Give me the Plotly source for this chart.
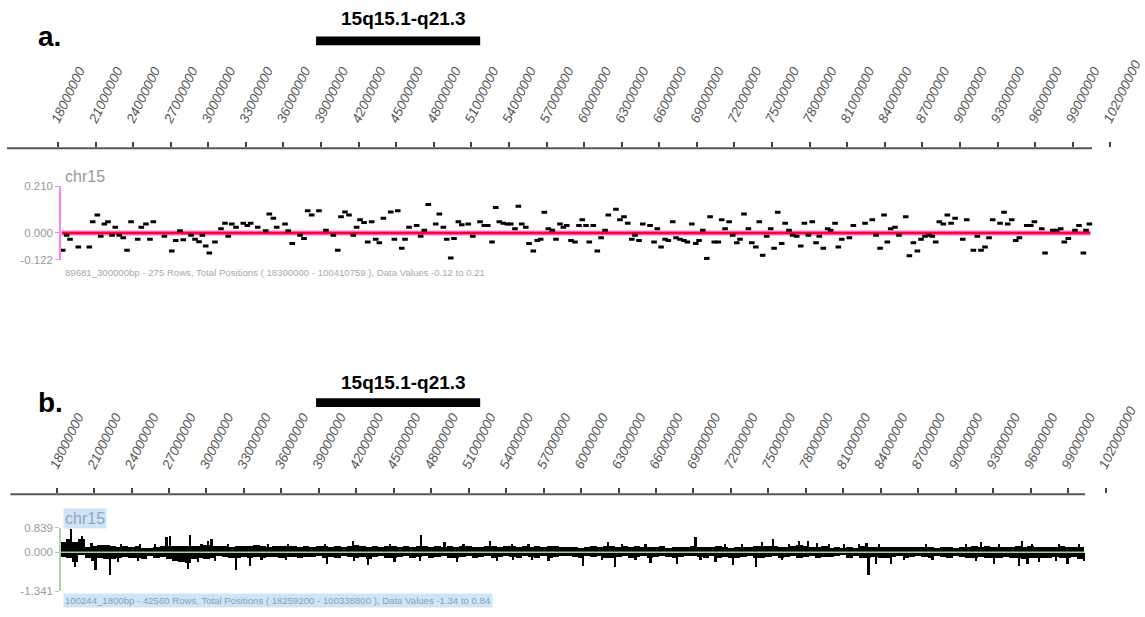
import plotly.graph_objects as go

W, H = 1145, 617

# ---------------- data ----------------
RULER_TICKS_BP = list(range(18000000, 102000001, 3000000))
RULER_TICK_TEXT = [str(t) for t in RULER_TICKS_BP]
REGION_LABEL = "15q15.1-q21.3"
REGION_START_BP = 38.6e6
REGION_END_BP = 51.7e6

# panel a : 300 kb windows
A_START_BP, A_END_BP = 18300000, 100410759
A_RULER_BP = (13.93e6, 100.54e6)
A_YTICKS = [0.21, 0.0, -0.122]
A_YTICK_TEXT = ["0.210", "0.000", "-0.122"]
A_INFO = "89681_300000bp - 275 Rows, Total Positions ( 18300000 - 100410759 ), Data Values -0.12 to 0.21"
A_POS_MB = [
    18.38, 18.69, 18.96, 19.62, 20.50, 20.77, 21.14, 21.41, 21.70, 21.99,
    22.31, 22.57, 22.89, 23.21, 23.51, 23.83, 24.36, 24.65, 25.02, 25.34,
    25.61, 26.49, 27.08, 27.40, 27.74, 28.00, 28.62, 28.94, 29.26, 29.52,
    29.79, 30.08, 30.53, 31.01, 31.33, 31.59, 31.87, 32.21, 32.79, 33.11,
    33.38, 33.94, 34.58, 34.87, 35.19, 35.46, 36.12, 36.38, 36.70, 37.32,
    37.64, 37.93, 38.25, 38.83, 39.39, 39.98, 40.33, 40.59, 40.91, 41.23,
    41.57, 41.84, 42.11, 42.43, 42.72, 43.04, 43.36, 43.65, 43.97, 44.56,
    44.85, 45.12, 45.44, 45.70, 46.02, 46.63, 46.95, 47.24, 47.56, 48.15,
    48.44, 48.76, 49.03, 49.35, 49.61, 49.96, 50.23, 50.75, 51.11, 51.69,
    52.03, 52.30, 52.65, 52.94, 53.23, 53.55, 53.87, 54.14, 54.48, 54.75,
    55.02, 55.34, 55.60, 55.94, 56.26, 56.53, 56.82, 57.14, 57.46, 57.75,
    58.07, 58.34, 58.61, 58.95, 59.27, 59.59, 59.85, 60.15, 60.41, 60.73,
    61.05, 61.35, 61.67, 61.93, 62.54, 62.86, 63.18, 63.48, 63.80, 64.06,
    64.38, 64.68, 65.26, 65.58, 65.84, 66.14, 66.46, 66.72, 67.07, 67.33,
    67.65, 67.97, 68.24, 68.59, 68.91, 69.17, 69.47, 69.79, 70.05, 70.39,
    70.71, 70.98, 71.25, 71.57, 71.86, 72.18, 72.44, 72.76, 73.11, 73.38,
    73.70, 73.98, 74.25, 74.57, 74.89, 75.16, 75.45, 75.77, 76.04, 76.35,
    76.65, 76.97, 77.29, 77.58, 77.90, 78.21, 78.51, 78.77, 79.09, 79.44,
    79.68, 80.03, 80.29, 80.56, 81.17, 81.49, 82.42, 83.00, 83.30, 83.62,
    83.94, 84.20, 84.47, 84.81, 85.13, 85.67, 85.96, 86.28, 86.60, 86.89,
    87.21, 87.53, 87.79, 88.06, 88.35, 88.67, 88.99, 89.29, 89.61, 90.22,
    90.54, 91.07, 91.39, 91.68, 92.00, 92.32, 92.61, 93.20, 93.52, 93.81,
    94.13, 94.45, 94.74, 95.33, 95.65, 95.94, 96.53, 96.79, 97.41, 97.72,
    98.04, 98.33, 98.65, 99.18, 99.50, 99.85, 100.06, 100.33,
]
A_VAL = [
    -0.078, -0.010, -0.029, -0.063, -0.063, 0.051, 0.081, -0.015, 0.040, 0.051,
    -0.010, 0.026, -0.010, -0.022, -0.078, 0.051, -0.029, 0.026, 0.040, -0.029,
    0.051, -0.015, -0.081, -0.034, 0.010, -0.031, -0.010, -0.029, -0.040, -0.010,
    -0.059, -0.091, -0.041, 0.019, 0.044, -0.015, 0.040, 0.026, 0.044, 0.034,
    0.044, 0.026, 0.010, 0.085, 0.066, 0.026, 0.040, 0.010, -0.048, -0.010,
    -0.025, 0.100, 0.081, 0.100, 0.012, -0.010, -0.078, 0.073, 0.095, 0.081,
    -0.010, 0.026, 0.059, 0.047, -0.041, 0.051, -0.029, -0.044, 0.066, 0.095,
    -0.029, 0.100, -0.069, -0.029, 0.026, 0.034, -0.015, 0.012, 0.128, 0.040,
    0.085, 0.026, -0.029, -0.113, -0.025, 0.051, 0.037, 0.040, -0.015, 0.051,
    0.034, 0.034, -0.041, 0.115, 0.051, 0.044, 0.040, 0.040, 0.019, 0.120,
    0.040, 0.026, -0.048, -0.081, -0.034, -0.029, 0.093, 0.019, 0.012, -0.029,
    0.040, 0.026, 0.034, -0.034, -0.041, 0.034, 0.059, 0.034, -0.041, 0.034,
    -0.081, -0.022, 0.012, 0.081, 0.107, 0.059, 0.073, 0.044, -0.029, -0.010,
    -0.034, 0.040, 0.034, -0.041, 0.019, -0.063, -0.029, -0.034, 0.051, -0.022,
    -0.029, -0.034, -0.041, 0.040, -0.048, -0.034, 0.012, -0.115, 0.073, -0.041,
    -0.041, 0.059, 0.019, 0.051, -0.010, -0.044, -0.029, 0.085, 0.019, -0.044,
    -0.063, 0.051, -0.101, -0.015, 0.019, -0.069, 0.093, -0.048, 0.044, 0.012,
    -0.010, -0.015, -0.059, 0.044, -0.010, 0.051, -0.044, -0.015, -0.069, 0.019,
    0.012, 0.044, -0.063, -0.029, -0.022, 0.034, 0.044, 0.059, -0.010, -0.069,
    0.081, -0.041, 0.019, 0.026, -0.010, 0.073, -0.103, -0.044, -0.081, -0.029,
    -0.015, -0.010, -0.015, -0.041, 0.051, 0.040, 0.081, 0.044, 0.066, -0.029,
    0.059, -0.078, -0.015, -0.078, -0.063, -0.022, 0.059, 0.044, 0.093, 0.040,
    0.059, -0.034, -0.022, 0.034, 0.034, 0.051, 0.019, -0.091, 0.012, 0.012,
    0.019, -0.041, -0.025, 0.012, 0.034, -0.091, 0.012, 0.040,
]

# panel b : 1800 bp windows, summarised as 0.5 Mb envelopes + outlying spikes
B_START_BP, B_END_BP = 18259200, 100338800
B_RULER_BP = (14.3e6, 100.36e6)
B_YTICKS = [0.839, 0.0, -1.341]
B_YTICK_TEXT = ["0.839", "0.000", "-1.341"]
B_INFO = "100244_1800bp - 42560 Rows, Total Positions ( 18259200 - 100338800 ), Data Values -1.34 to 0.84"
B_BIN_FIRST_MB = 18.5
B_BIN_MB = 0.5
B_POS = [
    0.36, 0.45, 0.36, 0.48, 0.18, 0.22, 0.25, 0.27, 0.22, 0.20,
    0.22, 0.19, 0.22, 0.17, 0.14, 0.19, 0.22, 0.22, 0.24, 0.22,
    0.22, 0.22, 0.22, 0.27, 0.24, 0.22, 0.21, 0.20, 0.22, 0.24,
    0.22, 0.25, 0.22, 0.20, 0.24, 0.22, 0.24, 0.22, 0.20, 0.24,
    0.20, 0.22, 0.24, 0.19, 0.22, 0.20, 0.24, 0.26, 0.22, 0.20,
    0.22, 0.19, 0.22, 0.24, 0.20, 0.22, 0.19, 0.24, 0.22, 0.20,
    0.22, 0.18, 0.22, 0.20, 0.24, 0.22, 0.20, 0.19, 0.24, 0.22,
    0.20, 0.22, 0.24, 0.20, 0.22, 0.19, 0.22, 0.20, 0.24, 0.22,
    0.20, 0.18, 0.20, 0.17, 0.19, 0.21, 0.18, 0.24, 0.22, 0.20,
    0.21, 0.19, 0.22, 0.18, 0.20, 0.19, 0.21, 0.16, 0.18, 0.20,
    0.19, 0.22, 0.18, 0.20, 0.19, 0.22, 0.18, 0.16, 0.19, 0.18,
    0.20, 0.22, 0.24, 0.21, 0.24, 0.20, 0.19, 0.22, 0.26, 0.24,
    0.20, 0.18, 0.24, 0.16, 0.20, 0.15, 0.18, 0.16, 0.22, 0.20,
    0.19, 0.18, 0.20, 0.18, 0.19, 0.20, 0.18, 0.19, 0.20, 0.18,
    0.16, 0.20, 0.18, 0.16, 0.18, 0.19, 0.22, 0.20, 0.22, 0.19,
    0.20, 0.18, 0.20, 0.22, 0.19, 0.21, 0.20, 0.19, 0.18, 0.20,
    0.22, 0.19, 0.20, 0.18,
]
B_NEG = [
    -0.14, -0.18, -0.34, -0.08, -0.17, -0.28, -0.17, -0.21, -0.22, -0.17,
    -0.14, -0.20, -0.17, -0.22, -0.12, -0.17, -0.14, -0.22, -0.28, -0.32,
    -0.36, -0.22, -0.20, -0.22, -0.17, -0.12, -0.14, -0.17, -0.17, -0.14,
    -0.17, -0.15, -0.17, -0.15, -0.14, -0.17, -0.15, -0.14, -0.17, -0.15,
    -0.15, -0.13, -0.19, -0.15, -0.17, -0.13, -0.15, -0.19, -0.15, -0.22,
    -0.15, -0.13, -0.17, -0.20, -0.15, -0.13, -0.17, -0.15, -0.13, -0.17,
    -0.15, -0.12, -0.17, -0.20, -0.15, -0.13, -0.17, -0.15, -0.13, -0.18,
    -0.15, -0.13, -0.15, -0.17, -0.13, -0.15, -0.17, -0.13, -0.19, -0.15,
    -0.13, -0.13, -0.15, -0.18, -0.13, -0.15, -0.13, -0.17, -0.20, -0.15,
    -0.13, -0.17, -0.15, -0.13, -0.18, -0.15, -0.13, -0.15, -0.18, -0.15,
    -0.13, -0.12, -0.15, -0.17, -0.13, -0.18, -0.15, -0.17, -0.20, -0.15,
    -0.13, -0.17, -0.18, -0.15, -0.13, -0.17, -0.15, -0.13, -0.17, -0.15,
    -0.13, -0.17, -0.15, -0.15, -0.13, -0.10, -0.17, -0.13, -0.18, -0.20,
    -0.15, -0.18, -0.17, -0.15, -0.13, -0.17, -0.15, -0.13, -0.15, -0.17,
    -0.13, -0.15, -0.17, -0.13, -0.15, -0.17, -0.18, -0.15, -0.17, -0.20,
    -0.18, -0.15, -0.17, -0.20, -0.22, -0.18, -0.17, -0.20, -0.18, -0.15,
    -0.20, -0.17, -0.15, -0.22,
]
B_SPIKE_MB = [
    19.15, 19.47, 20.06, 21.13, 22.28, 26.82, 27.08, 28.55, 28.68, 30.15,
    30.42, 32.42, 33.49, 39.65, 41.79, 41.87, 42.99, 45.08, 47.21, 49.08,
    50.07, 52.73, 53.27, 57.41, 60.16, 62.16, 62.72, 65.58, 67.71, 69.18,
    70.78, 72.19, 74.03, 74.51, 75.37, 77.45, 78.20, 82.88, 83.04, 83.62,
    84.82, 92.03, 93.09, 95.10, 95.31, 95.77, 96.70, 98.97, 100.30,
    20.81, 23.21, 24.68, 25.88, 29.62, 31.75, 34.95, 36.56, 22.94, 24.54,
    29.35, 30.69, 34.43, 36.40, 39.52, 44.72, 50.60, 54.47, 55.81, 47.13,
    54.60, 56.07, 63.31, 65.18, 71.58, 72.91, 76.65, 78.92, 61.70, 64.38,
    69.58, 76.11, 79.88, 81.08, 82.28, 83.88, 87.62, 90.82, 93.49, 96.16,
    98.29, 99.89, 85.89, 88.16, 91.63, 98.02,
]
B_SPIKE_VAL = [
    0.80, -0.50, 0.56, -0.60, -0.78, 0.54, 0.56, -0.56, 0.60, 0.41,
    0.48, -0.60, -0.45, -0.39, 0.39, -0.30, -0.41, -0.34, 0.59, 0.37,
    -0.34, 0.41, -0.28, -0.28, -0.45, 0.37, -0.48, -0.37, -0.39, 0.53,
    -0.34, -0.43, -0.48, 0.37, 0.45, 0.41, 0.39, 0.34, -0.78, -0.39,
    -0.39, 0.37, -0.39, -0.45, 0.41, -0.39, -0.34, -0.39, -0.28,
    0.33, 0.30, 0.30, 0.28, 0.30, 0.30, 0.30, 0.30, -0.34, -0.30,
    -0.32, -0.30, -0.26, -0.26, 0.30, 0.30, 0.30, 0.28, 0.30, -0.28,
    -0.25, -0.25, 0.30, 0.30, 0.30, 0.28, 0.30, 0.33, -0.26, -0.25,
    -0.26, -0.25, 0.30, 0.28, 0.28, 0.30, 0.28, 0.30, 0.28, 0.30,
    0.28, 0.30, -0.26, -0.25, -0.28, -0.28,
]

# ---------------- styling helpers ----------------
SANS = "Liberation Sans, Arial, sans-serif"


def px(p):
    return p / W


def py(p):
    return 1 - p / H


MB = 1e6

fig = go.Figure()

# ---- panel a : zero line + points ----
fig.add_trace(go.Scatter(x=[A_START_BP, A_END_BP], y=[0, 0], mode="lines",
                         line=dict(color="#ff7ad9", width=5),
                         xaxis="x2", yaxis="y2", hoverinfo="skip", showlegend=False))
fig.add_trace(go.Scatter(x=[A_START_BP, A_END_BP], y=[0, 0], mode="lines",
                         line=dict(color="#ff0033", width=2.5),
                         xaxis="x2", yaxis="y2", hoverinfo="skip", showlegend=False))
n_a = min(len(A_POS_MB), len(A_VAL))
fig.add_trace(go.Scatter(x=[m * MB for m in A_POS_MB[:n_a]], y=A_VAL[:n_a], mode="markers",
                         marker=dict(symbol="line-ew", size=4, color="black",
                                     line=dict(color="black", width=3)),
                         xaxis="x2", yaxis="y2", showlegend=False))

# ---- panel b : bars ----
b_x = [(B_BIN_FIRST_MB + B_BIN_MB * i) * MB for i in range(max(len(B_POS), len(B_NEG)))]
bar_style = dict(color="black", line=dict(width=0))
fig.add_trace(go.Bar(x=b_x[:len(B_POS)], y=B_POS, width=B_BIN_MB * MB, marker=bar_style,
                     xaxis="x4", yaxis="y4", showlegend=False))
fig.add_trace(go.Bar(x=b_x[:len(B_NEG)], y=B_NEG, width=B_BIN_MB * MB, marker=bar_style,
                     xaxis="x4", yaxis="y4", showlegend=False))
n_s = min(len(B_SPIKE_MB), len(B_SPIKE_VAL))
fig.add_trace(go.Bar(x=[m * MB for m in B_SPIKE_MB[:n_s]], y=B_SPIKE_VAL[:n_s], width=0.13 * MB,
                     marker=bar_style, xaxis="x4", yaxis="y4", showlegend=False))
fig.add_trace(go.Scatter(x=[B_START_BP, B_END_BP], y=[0, 0], mode="lines",
                         line=dict(color="#9fd09f", width=1.6),
                         xaxis="x4", yaxis="y4", hoverinfo="skip", showlegend=False))

ruler_common = dict(
    side="top", tickmode="array", tickvals=RULER_TICKS_BP,
    ticktext=[f"<i>{t}</i>" for t in RULER_TICK_TEXT],
    tickangle=-64, ticks="outside", ticklen=5, tickwidth=2, tickcolor="#444",
    showline=False, showgrid=False, zeroline=False, ticklabelstandoff=9,
    ticklabelshift=-5, ticklabeloverflow="hide past div",
    tickfont=dict(family=SANS, size=13.5, color="#555"),
)
A_RANGE = [13.370e6, 104.77e6]
B_RANGE = [13.467e6, 105.16e6]

yaxis_common = dict(
    anchor="free", position=px(60), showgrid=False, zeroline=False, showline=True,
    ticks="outside", ticklen=4, tickmode="array", linewidth=1.5,
)

fig.update_layout(
    width=W, height=H, margin=dict(l=0, r=0, t=0, b=0),
    paper_bgcolor="white", plot_bgcolor="rgba(0,0,0,0)",
    barmode="overlay", bargap=0,
    xaxis=dict(domain=[0, 1], range=A_RANGE, anchor="y", **ruler_common),
    yaxis=dict(domain=[py(160), py(145)], range=[0, 1], visible=False),
    xaxis2=dict(domain=[0, 1], range=A_RANGE, anchor="y2", visible=False),
    yaxis2=dict(domain=[py(259), py(184)], range=[-0.122, 0.21],
                tickvals=A_YTICKS, ticktext=A_YTICK_TEXT, linecolor="#ff80ff", tickcolor="#ff80ff",
                tickfont=dict(family=SANS, size=11.5, color="#999"), **yaxis_common),
    xaxis3=dict(domain=[0, 1], range=B_RANGE, anchor="y3", **ruler_common),
    yaxis3=dict(domain=[py(510), py(498)], range=[0, 1], visible=False),
    xaxis4=dict(domain=[0, 1], range=B_RANGE, anchor="y4", visible=False),
    yaxis4=dict(domain=[py(597), py(532)], range=[-1.341, 0.839],
                tickvals=B_YTICKS, ticktext=B_YTICK_TEXT, linecolor="#a6d6a6", tickcolor="#a6d6a6",
                tickfont=dict(family=SANS, size=11.5, color="#999"), **yaxis_common),
)

shapes = [
    dict(type="rect", xref="x", yref="paper", x0=REGION_START_BP, x1=REGION_END_BP,
         y0=py(40), y1=py(31), fillcolor="black", line=dict(width=0)),
    dict(type="rect", xref="x", yref="paper", x0=REGION_START_BP, x1=REGION_END_BP,
         y0=py(409), y1=py(400), fillcolor="black", line=dict(width=0)),
    dict(type="line", xref="x", yref="paper", x0=A_RULER_BP[0], x1=A_RULER_BP[1],
         y0=py(145), y1=py(145), line=dict(color="#555", width=2)),
    dict(type="line", xref="x3", yref="paper", x0=B_RULER_BP[0], x1=B_RULER_BP[1],
         y0=py(498), y1=py(498), line=dict(color="#555", width=2)),
]
fig.update_layout(shapes=shapes)

ann = []


def add_text(text, x, y, size, color="black", family=SANS, bold=False, xanchor="left", bg=None):
    t = f"<b>{text}</b>" if bold else text
    d = dict(text=t, x=px(x), y=py(y), xref="paper", yref="paper", showarrow=False,
             xanchor=xanchor, yanchor="middle", font=dict(family=family, size=size, color=color))
    if bg:
        d.update(bgcolor=bg, borderpad=1)
    ann.append(d)


add_text("a.", 36, 31, 28, bold=True)
add_text(REGION_LABEL, 403, 13, 19, bold=True, xanchor="center")
add_text("chr15", 63, 174, 16, color="#999")
add_text(A_INFO, 63, 272, 9.6, color="#a8a8a8")

add_text("b.", 36, 404, 28, bold=True)
add_text(REGION_LABEL, 403, 384, 19, bold=True, xanchor="center")
add_text("chr15", 63, 523, 16, color="#8fa6b8", bg="#cfe5f7")
add_text(B_INFO, 63, 606, 9.6, color="#8a9fb0", bg="#cfe5f7")

fig.update_layout(annotations=ann)

fig.write_html("out.html")
